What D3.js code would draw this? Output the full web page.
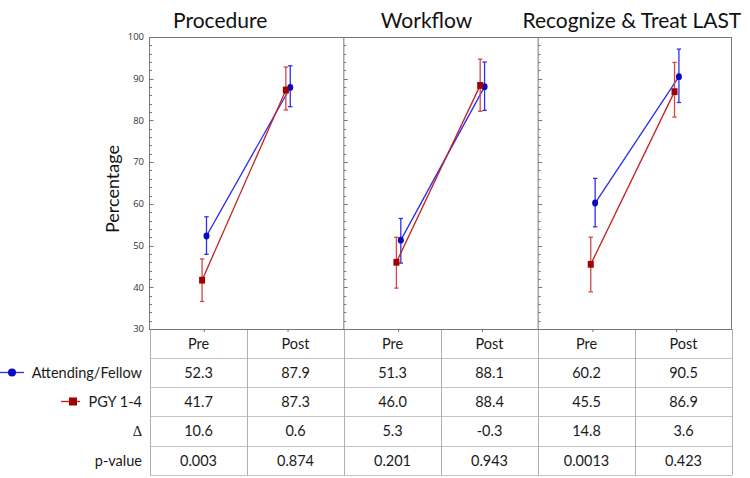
<!DOCTYPE html>
<html lang="en">
<head>
    <meta charset="UTF-8">
    <title>Pre/Post scores</title>
    <script src="https://d3js.org/d3.v7.min.js"></script>
    <style>
        body { margin: 0; background: #fff; }
    </style>
</head>
<body>
<div id="chart"></div>
<script>
    // data
    const panels = ["Procedure", "Workflow", "Recognize & Treat LAST"];
    const phases = ["Pre", "Post"];
    const seriesNames = ["Attending/Fellow", "PGY 1-4"];

    // one value per panel x phase, in order P-pre, P-post, W-pre, W-post, R-pre, R-post
    const attendingMean = [52.3, 87.9, 51.3, 88.1, 60.2, 90.5];
    const attendingLow = [47.9, 83.3, 45.8, 82.4, 54.5, 84.3];
    const attendingHigh = [56.9, 93.1, 56.5, 94.0, 66.1, 97.1];

    const pgyMean = [41.7, 87.3, 46.0, 88.4, 45.5, 86.9];
    const pgyLow = [36.6, 82.5, 39.8, 82.2, 38.9, 80.8];
    const pgyHigh = [46.8, 92.8, 52.0, 94.7, 52.0, 93.9];

    const deltaLabels = ["10.6", "0.6", "5.3", "-0.3", "14.8", "3.6"];
    const pValueLabels = ["0.003", "0.874", "0.201", "0.943", "0.0013", "0.423"];
    const yTicks = [30, 40, 50, 60, 70, 80, 90, 100];

    const width = 750, height = 478;
    const plotTop = 37, plotBottom = 329, plotLeft = 149, plotRight = 732;

    const svg = d3.select("#chart").append("svg")
        .attr("width", width)
        .attr("height", height)
        .style("font-family", "Lato, sans-serif");

    const panelX = d3.scaleBand().domain(panels).range([plotLeft, plotRight]);
    const phaseX = d3.scalePoint().domain(phases).range([0, panelX.bandwidth()]).padding(0.66);
    const y = d3.scaleLinear().domain([30, 100]).range([plotBottom, plotTop]);

    const frameColor = "#777";

    // y tick labels
    svg.append("g").selectAll("text")
        .data(yTicks)
        .join("text")
        .attr("x", plotLeft - 5)
        .attr("y", d => y(d))
        .attr("dy", "0.35em")
        .attr("text-anchor", "end")
        .style("font-family", "'Open Sans', sans-serif")
        .style("font-size", "9.5px")
        .attr("fill", "#333")
        .text(d => d);

    svg.append("text")
        .attr("transform", `translate(119,189) rotate(-90)`)
        .attr("text-anchor", "middle")
        .style("font-size", "18px")
        .attr("fill", "#111")
        .text("Percentage");

    // panel frames, ticks on inner side
    const minorTicks = d3.range(30, 101, 2);
    panels.forEach((p, i) => {
        const x0 = panelX(p);
        const g = svg.append("g");
        g.append("line")
            .attr("x1", x0 + 0.5).attr("x2", x0 + 0.5)
            .attr("y1", plotTop).attr("y2", plotBottom)
            .attr("stroke", frameColor);
        g.selectAll("line.tick")
            .data(minorTicks)
            .join("line")
            .attr("class", "tick")
            .attr("x1", x0 + 0.5)
            .attr("x2", d => x0 + 0.5 + (d % 10 === 0 ? 4 : 2.5))
            .attr("y1", d => Math.round(y(d)) + 0.5)
            .attr("y2", d => Math.round(y(d)) + 0.5)
            .attr("stroke", frameColor);
        // x ticks
        g.selectAll("line.xt")
            .data(phases)
            .join("line")
            .attr("class", "xt")
            .attr("x1", d => x0 + phaseX(d))
            .attr("x2", d => x0 + phaseX(d))
            .attr("y1", plotBottom)
            .attr("y2", plotBottom + 3)
            .attr("stroke", frameColor);
        // titles
        g.append("text")
            .attr("x", x0 + panelX.bandwidth() / 2 - [26, 14, 3][i])
            .attr("y", 28)
            .attr("text-anchor", "middle")
            .style("font-size", "21px")
            .attr("fill", "#111")
            .text(p);
    });
    svg.append("line")
        .attr("x1", plotRight - 0.5).attr("x2", plotRight - 0.5)
        .attr("y1", plotTop).attr("y2", plotBottom)
        .attr("stroke", frameColor);
    svg.append("line")
        .attr("x1", plotLeft).attr("x2", plotRight)
        .attr("y1", plotTop + 0.5).attr("y2", plotTop + 0.5)
        .attr("stroke", frameColor);

    // series
    const series = [
        {name: seriesNames[0], mean: attendingMean, low: attendingLow, high: attendingHigh,
            offset: 2.2, line: "#2a2af0", err: "#3030e8", marker: "#0a0ac0", shape: "circle"},
        {name: seriesNames[1], mean: pgyMean, low: pgyLow, high: pgyHigh,
            offset: -2.2, line: "#c42020", err: "#d04848", marker: "#a00000", shape: "square"}
    ];

    function cx(i, s) {
        const p = panels[Math.floor(i / 2)];
        return panelX(p) + phaseX(phases[i % 2]) + s.offset;
    }

    series.forEach(s => {
        const g = svg.append("g");
        panels.forEach((p, pi) => {
            const a = pi * 2, b = pi * 2 + 1;
            g.append("line")
                .attr("x1", cx(a, s)).attr("y1", y(s.mean[a]))
                .attr("x2", cx(b, s)).attr("y2", y(s.mean[b]))
                .attr("stroke", s.line)
                .attr("stroke-width", 1.3);
        });
        s.mean.forEach((m, i) => {
            const x = cx(i, s);
            g.append("line")
                .attr("x1", x).attr("x2", x)
                .attr("y1", y(s.low[i])).attr("y2", y(s.high[i]))
                .attr("stroke", s.err).attr("stroke-width", 1.3);
            [s.low[i], s.high[i]].forEach(v => {
                g.append("line")
                    .attr("x1", x - 2.2).attr("x2", x + 2.2)
                    .attr("y1", y(v)).attr("y2", y(v))
                    .attr("stroke", s.err).attr("stroke-width", 1.3);
            });
            if (s.shape === "circle") {
                g.append("ellipse")
                    .attr("cx", x).attr("cy", y(m))
                    .attr("rx", 3).attr("ry", 3.4)
                    .attr("fill", s.marker);
            } else {
                g.append("rect")
                    .attr("x", x - 3).attr("y", y(m) - 3.4)
                    .attr("width", 6).attr("height", 6.8)
                    .attr("fill", s.marker);
            }
        });
    });

    // table below
    const cols = d3.range(6);
    const colX = d3.scaleBand().domain(cols).range([150, 732]);
    const rowEdges = [329, 358, 387, 416, 446, 475];
    const rowY = i => (rowEdges[i] + rowEdges[i + 1]) / 2;

    const table = svg.append("g");
    table.selectAll("line.h")
        .data(rowEdges.slice(1))
        .join("line")
        .attr("x1", 150).attr("x2", 732)
        .attr("y1", d => d + 0.5).attr("y2", d => d + 0.5)
        .attr("stroke", "#c4c4c4");
    table.selectAll("line.v")
        .data(d3.range(7))
        .join("line")
        .attr("x1", d => (d < 6 ? colX(d) : 732) + 0.5)
        .attr("x2", d => (d < 6 ? colX(d) : 732) + 0.5)
        .attr("y1", plotBottom).attr("y2", 475)
        .attr("stroke", "#b0b0b0");
    svg.append("line")
        .attr("x1", plotLeft).attr("x2", plotRight)
        .attr("y1", plotBottom + 0.5).attr("y2", plotBottom + 0.5)
        .attr("stroke", frameColor);

    const rows = [
        cols.map(i => phases[i % 2]),
        attendingMean.map(d => d.toFixed(1)),
        pgyMean.map(d => d.toFixed(1)),
        deltaLabels,
        pValueLabels
    ];
    rows.forEach((r, ri) => {
        table.selectAll(null)
            .data(r)
            .join("text")
            .attr("x", (d, i) => colX(i) + colX.bandwidth() / 2)
            .attr("y", rowY(ri))
            .attr("dy", "0.35em")
            .attr("text-anchor", "middle")
            .style("font-size", "14.5px")
            .attr("fill", "#1a1a1a")
            .text(d => d);
    });

    // row labels and legend
    const labelX = 142;
    const rowLabels = [seriesNames[0], seriesNames[1], "\u0394", "p-value"];
    table.selectAll("text.rl")
        .data(rowLabels)
        .join("text")
        .attr("class", "rl")
        .attr("x", labelX)
        .attr("y", (d, i) => rowY(i + 1))
        .attr("dy", "0.35em")
        .attr("text-anchor", "end")
        .style("font-family", d => d === "\u0394" ? "'Liberation Serif', serif" : null)
        .style("font-size", "14.5px")
        .attr("fill", "#1a1a1a")
        .text(d => d);

    const lg = svg.append("g");
    lg.append("line")
        .attr("x1", 0).attr("x2", 24)
        .attr("y1", rowY(1)).attr("y2", rowY(1))
        .attr("stroke", series[0].line).attr("stroke-width", 1.3);
    lg.append("circle")
        .attr("cx", 12).attr("cy", rowY(1)).attr("r", 4)
        .attr("fill", series[0].marker);
    lg.append("line")
        .attr("x1", 61).attr("x2", 80)
        .attr("y1", rowY(2)).attr("y2", rowY(2))
        .attr("stroke", series[1].line).attr("stroke-width", 1.3);
    lg.append("rect")
        .attr("x", 69).attr("y", rowY(2) - 4)
        .attr("width", 8).attr("height", 8)
        .attr("fill", series[1].marker);
</script>
</body>
</html>
